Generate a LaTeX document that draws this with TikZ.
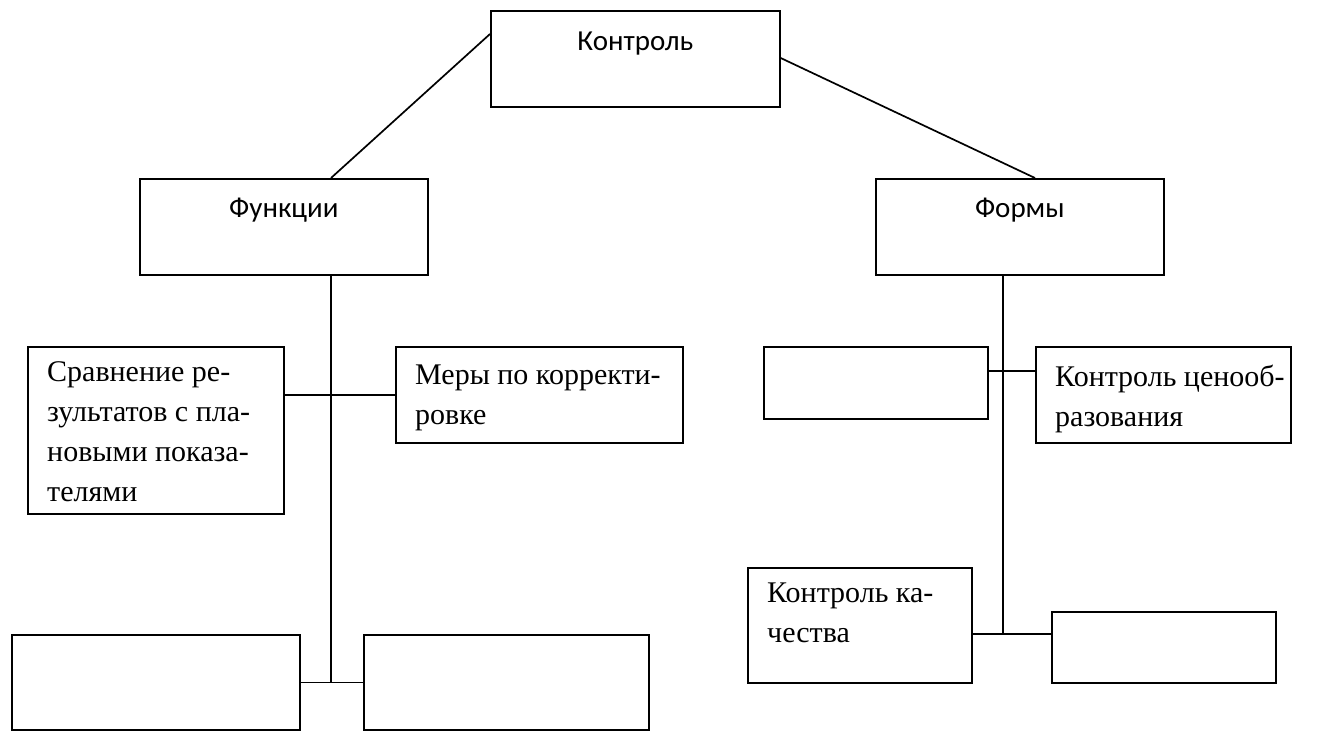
\documentclass[tikz,border=0pt]{standalone}
\usepackage{fontspec}
\setmainfont{Liberation Serif}
\newfontfamily\calfont{Carlito}
\begin{document}
\begin{tikzpicture}[x=1pt,y=-1pt,
  box/.style={draw,line width=1.7pt,anchor=north west,inner sep=0pt},
  ttl/.style={font=\calfont\fontsize{29}{34}\selectfont,anchor=base,inner sep=0pt},
  txt/.style={font=\fontsize{30}{40}\selectfont,anchor=base west,align=left,inner sep=0pt},
  conn/.style={line width=1.7pt}]
\useasboundingbox (0,0) rectangle (1326,731);
% boxes
\node[box,minimum width=289pt,minimum height=96pt] (ctrl) at (490,10) {};
\node[box,minimum width=288pt,minimum height=96pt] (func) at (139,178) {};
\node[box,minimum width=288pt,minimum height=96pt] (forms) at (875,178) {};
\node[box,minimum width=256pt,minimum height=167pt] (sr) at (27,346) {};
\node[box,minimum width=287pt,minimum height=96pt] (mery) at (395,346) {};
\node[box,minimum width=224pt,minimum height=72pt] (e1) at (763,346) {};
\node[box,minimum width=255pt,minimum height=96pt] (ccn) at (1035,346) {};
\node[box,minimum width=224pt,minimum height=115pt] (kk) at (747,567) {};
\node[box,minimum width=224pt,minimum height=71pt] (er) at (1051,611) {};
\node[box,minimum width=288pt,minimum height=95pt] (bl) at (11,634) {};
\node[box,minimum width=285pt,minimum height=95pt] (bm) at (363,634) {};
% titles
\node[ttl] (ctrlt) at ([yshift=-40pt]ctrl.north) {Контроль};
\node[ttl] (funct) at ([yshift=-39pt]func.north) {Функции};
\node[ttl] (formst) at ([yshift=-39pt]forms.north) {Формы};
% texts (anchor at the baseline of the last line)
\node[txt] (srt) at ([xshift=20pt,yshift=-155pt]sr.north west) {Сравнение ре-\\зультатов с пла-\\новыми показа-\\телями};
\node[txt] (meryt) at ([xshift=20pt,yshift=-78pt]mery.north west) {Меры по корректи-\\ровке};
\node[txt] (ccnt) at ([xshift=20pt,yshift=-80pt]ccn.north west) {Контроль ценооб-\\разования};
\node[txt] (kkt) at ([xshift=20pt,yshift=-75pt]kk.north west) {Контроль ка-\\чества};
% coordinates on edges
\coordinate (ctrlL) at ([yshift=-24pt]ctrl.north west);
\coordinate (ctrlR) at ([yshift=-48pt]ctrl.north east);
\coordinate (funcT) at ([xshift=192pt]func.north west);
\coordinate (funcB) at ([xshift=192pt]func.south west);
\coordinate (formsT) at ([xshift=160pt]forms.north west);
\coordinate (formsB) at ([xshift=128pt]forms.south west);
\coordinate (ccnJ) at ([yshift=-25pt]ccn.north west);
\coordinate (erJ) at ([yshift=-23pt]er.north west);
% connectors
\draw[conn] (ctrlL) -- (funcT);
\draw[conn] (ctrlR) -- (formsT);
\draw[conn] (funcB) -- (funcB |- bl.east);
\draw[conn] (mery.west -| sr.east) -- (mery.west);
\draw[conn] (bl.east) -- (bm.west);
\draw[conn] (formsB) -- (formsB |- erJ);
\draw[conn] (ccnJ -| e1.east) -- (ccnJ);
\draw[conn] (erJ -| kk.east) -- (erJ);
\end{tikzpicture}
\end{document}
